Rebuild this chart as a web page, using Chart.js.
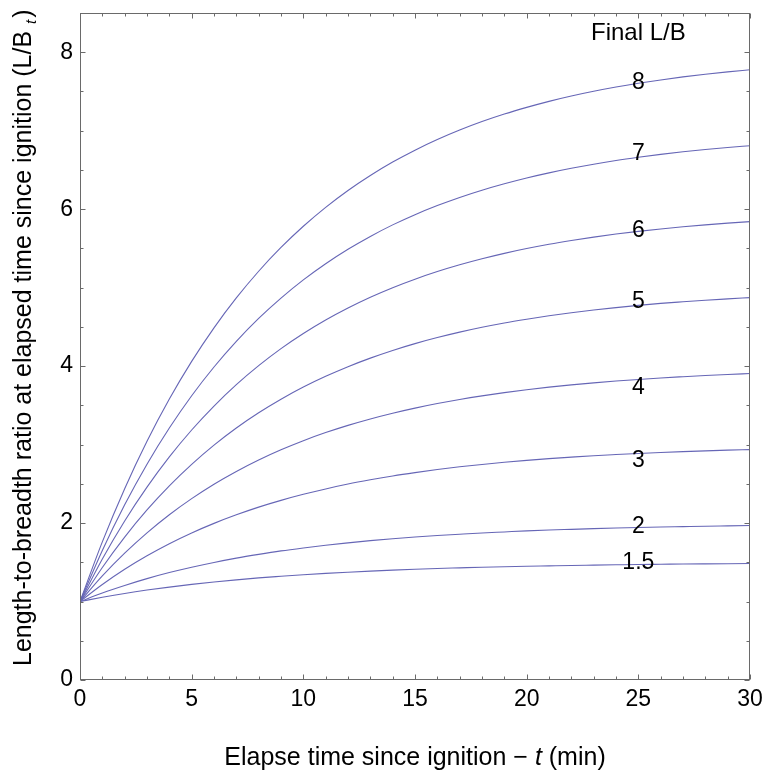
<!DOCTYPE html>
<html>
<head>
<meta charset="utf-8">
<script src="https://cdn.jsdelivr.net/npm/chart.js@4/dist/chart.umd.min.js"></script>
<style>
  html, body { margin: 0; padding: 0; background: #ffffff; }
  #wrap { width: 764px; height: 777px; }
</style>
</head>
<body>
<div id="wrap"><canvas id="c" width="764" height="777"></canvas></div>
<script>
// ---- data (one reading per minute) ----
const times = [0, 1, 2, 3, 4, 5, 6, 7, 8, 9, 10, 11, 12, 13, 14, 15, 16, 17, 18, 19, 20, 21, 22, 23, 24, 25, 26, 27, 28, 29, 30];

const lb8  = [1.000, 1.760, 2.438, 3.042, 3.580, 4.060, 4.488, 4.869, 5.209, 5.512, 5.782, 6.023, 6.238, 6.429, 6.600, 6.752, 6.887, 7.008, 7.116, 7.212, 7.297, 7.374, 7.442, 7.502, 7.556, 7.604, 7.647, 7.686, 7.720, 7.750, 7.777];
const lb7  = [1.000, 1.651, 2.232, 2.750, 3.211, 3.623, 3.989, 4.316, 4.608, 4.867, 5.099, 5.305, 5.489, 5.653, 5.800, 5.930, 6.046, 6.150, 6.242, 6.324, 6.398, 6.463, 6.521, 6.573, 6.620, 6.661, 6.698, 6.731, 6.760, 6.786, 6.809];
const lb6  = [1.000, 1.543, 2.027, 2.458, 2.843, 3.186, 3.491, 3.764, 4.006, 4.223, 4.416, 4.588, 4.741, 4.878, 5.000, 5.108, 5.205, 5.291, 5.368, 5.437, 5.498, 5.553, 5.601, 5.644, 5.683, 5.717, 5.748, 5.776, 5.800, 5.822, 5.841];
const lb5  = [1.000, 1.434, 1.821, 2.167, 2.474, 2.748, 2.993, 3.211, 3.405, 3.578, 3.733, 3.870, 3.993, 4.102, 4.200, 4.287, 4.364, 4.433, 4.495, 4.550, 4.598, 4.642, 4.681, 4.716, 4.746, 4.774, 4.799, 4.820, 4.840, 4.857, 4.873];
const lb4  = [1.000, 1.326, 1.616, 1.875, 2.106, 2.311, 2.495, 2.658, 2.804, 2.934, 3.050, 3.153, 3.245, 3.327, 3.400, 3.465, 3.523, 3.575, 3.621, 3.662, 3.699, 3.732, 3.761, 3.787, 3.810, 3.830, 3.849, 3.865, 3.880, 3.893, 3.905];
const lb3  = [1.000, 1.217, 1.411, 1.583, 1.737, 1.874, 1.996, 2.105, 2.203, 2.289, 2.366, 2.435, 2.497, 2.551, 2.600, 2.643, 2.682, 2.717, 2.747, 2.775, 2.799, 2.821, 2.840, 2.858, 2.873, 2.887, 2.899, 2.910, 2.920, 2.929, 2.936];
const lb2  = [1.000, 1.109, 1.205, 1.292, 1.369, 1.437, 1.498, 1.553, 1.601, 1.645, 1.683, 1.718, 1.748, 1.776, 1.800, 1.822, 1.841, 1.858, 1.874, 1.887, 1.900, 1.911, 1.920, 1.929, 1.937, 1.944, 1.950, 1.955, 1.960, 1.964, 1.968];
const lb15 = [1.000, 1.054, 1.103, 1.146, 1.184, 1.219, 1.249, 1.276, 1.301, 1.322, 1.342, 1.359, 1.374, 1.388, 1.400, 1.411, 1.421, 1.429, 1.437, 1.444, 1.450, 1.455, 1.460, 1.464, 1.468, 1.472, 1.475, 1.478, 1.480, 1.482, 1.484];

const seriesValues = [lb8, lb7, lb6, lb5, lb4, lb3, lb2, lb15];
const seriesNames  = ['8', '7', '6', '5', '4', '3', '2', '1.5'];
// where each curve label sits (data units)
const labelX = 25;
const labelY = [7.61, 6.71, 5.73, 4.82, 3.72, 2.80, 1.95, 1.49];
const legendTitle = 'Final L/B';
const legendTitleY = 8.24;

const xTickLabels = [0, 5, 10, 15, 20, 25, 30];
const yTickLabels = [0, 2, 4, 6, 8];
const xMinorStep = 1;
const yMinorStep = 0.5;

const xTitleA = 'Elapse time since ignition \u2212 ';
const xTitleT = 't';
const xTitleB = ' (min)';
const yTitleA = 'Length-to-breadth ratio at elapsed time since ignition (L/B ';
const yTitleT = 't';
const yTitleB = ')';

// ---- styles ----
const FONT = "'Liberation Sans', Arial, Helvetica, sans-serif";
const LINE_COLOR = 'rgb(102, 102, 182)';
const FRAME_COLOR = '#6a6a6a';

const datasets = seriesValues.map((vals, i) => ({
  label: seriesNames[i],
  data: times.map((t, j) => ({ x: t, y: vals[j] })),
  borderColor: LINE_COLOR,
  borderWidth: 1.1,
  pointRadius: 0,
  fill: false,
  cubicInterpolationMode: 'monotone'
}));

const framePlugin = {
  id: 'frameTicks',
  afterDatasetsDraw(chart) {
    const { ctx, chartArea: a, scales: { x, y } } = chart;
    ctx.save();
    ctx.strokeStyle = FRAME_COLOR;
    ctx.lineWidth = 1;
    const L = Math.round(a.left) + 0.5, R = Math.round(a.right) - 0.5;
    const T = Math.round(a.top) + 0.5, B = Math.round(a.bottom) - 0.5;
    ctx.strokeRect(L, T, R - L, B - T);
    ctx.beginPath();
    for (let v = x.min; v <= x.max + 1e-9; v += xMinorStep) {
      const px = Math.round(x.getPixelForValue(v)) + 0.5;
      const len = xTickLabels.includes(v) ? 5 : 3;
      ctx.moveTo(px, B); ctx.lineTo(px, B - len);
      ctx.moveTo(px, T); ctx.lineTo(px, T + len);
    }
    for (let v = y.min; v <= y.max + 1e-9; v += yMinorStep) {
      const py = Math.round(y.getPixelForValue(v)) + 0.5;
      const len = yTickLabels.includes(v) ? 5 : 3;
      ctx.moveTo(L, py); ctx.lineTo(L + len, py);
      ctx.moveTo(R, py); ctx.lineTo(R - len, py);
    }
    ctx.stroke();

    // curve labels
    ctx.fillStyle = '#000';
    ctx.textAlign = 'center';
    ctx.textBaseline = 'middle';
    ctx.font = '23px ' + FONT;
    seriesNames.forEach((n, i) => {
      ctx.fillText(n, x.getPixelForValue(labelX), y.getPixelForValue(labelY[i]));
    });
    ctx.font = '24px ' + FONT;
    ctx.fillText(legendTitle, x.getPixelForValue(labelX), y.getPixelForValue(legendTitleY));
    ctx.restore();
  },
  afterDraw(chart) {
    const { ctx, chartArea: a } = chart;
    ctx.save();
    ctx.fillStyle = '#000';
    ctx.textBaseline = 'alphabetic';
    // x title
    const big = '25px ' + FONT, it = 'italic 25px ' + FONT;
    ctx.font = big; const wA = ctx.measureText(xTitleA).width; const wB = ctx.measureText(xTitleB).width;
    ctx.font = it; const wT = ctx.measureText(xTitleT).width;
    let sx = (a.left + a.right) / 2 - (wA + wT + wB) / 2;
    const by = 765;
    ctx.textAlign = 'left';
    ctx.font = big; ctx.fillText(xTitleA, sx, by);
    ctx.font = it; ctx.fillText(xTitleT, sx + wA, by);
    ctx.font = big; ctx.fillText(xTitleB, sx + wA + wT, by);

    // y title (rotated), starts at bottom
    ctx.translate(31, 666);
    ctx.rotate(-Math.PI / 2);
    ctx.font = big;
    ctx.fillText(yTitleA, 0, 0);
    const w1 = ctx.measureText(yTitleA).width;
    ctx.font = 'italic 15px ' + FONT;
    ctx.fillText(yTitleT, w1, 5);
    const w2 = ctx.measureText(yTitleT).width;
    ctx.font = big;
    ctx.fillText(yTitleB, w1 + w2 + 2, 0);
    ctx.restore();
  }
};

new Chart(document.getElementById('c'), {
  type: 'line',
  data: { datasets },
  options: {
    responsive: false,
    animation: false,
    devicePixelRatio: 1,
    layout: { padding: { left: 0, right: 14, top: 13, bottom: 0 } },
    plugins: { legend: { display: false }, tooltip: { enabled: false }, title: { display: false } },
    scales: {
      x: {
        type: 'linear', min: 0, max: 30,
        grid: { display: false, drawTicks: false },
        border: { display: false },
        ticks: {
          stepSize: 5, color: '#000', padding: 6, maxRotation: 0, autoSkip: false,
          font: { family: FONT, size: 23 }
        },
        afterBuildTicks: s => { s.ticks = xTickLabels.map(v => ({ value: v })); },
        afterFit: s => { s.height = 97; s.paddingLeft = 0; s.paddingRight = 0; }
      },
      y: {
        type: 'linear', min: 0, max: 8.5,
        grid: { display: false, drawTicks: false },
        border: { display: false },
        ticks: {
          stepSize: 2, color: '#000', padding: 7,
          font: { family: FONT, size: 23 }
        },
        afterBuildTicks: s => { s.ticks = yTickLabels.map(v => ({ value: v })); },
        afterFit: s => { s.width = 80; s.paddingTop = 0; s.paddingBottom = 0; }
      }
    }
  },
  plugins: [framePlugin]
});
</script>
</body>
</html>
